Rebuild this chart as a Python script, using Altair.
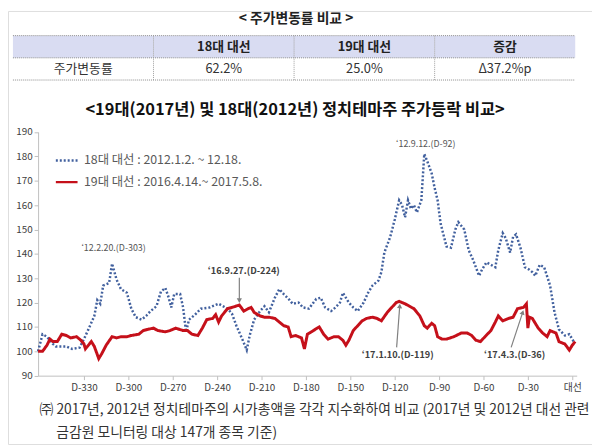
import altair as alt
import pandas as pd

FONT = "Noto Sans CJK KR"

# ---------------- texts ----------------
table_title = "< 주가변동률 비교 >"
table_header = ["", "18대 대선", "19대 대선", "증감"]
table_row = ["주가변동률", "62.2%", "25.0%", "Δ37.2%p"]
chart_title = "<19대(2017년) 및 18대(2012년) 정치테마주 주가등락 비교>"
series_names = ["18대 대선 : 2012.1.2. ~ 12.18.", "19대 대선 : 2016.4.14.~ 2017.5.8."]
footnote = [
    "㈜ 2017년, 2012년 정치테마주의 시가총액을 각각 지수화하여 비교 (2017년 및 2012년 대선 관련",
    "금감원 모니터링 대상 147개 종목 기준)",
]

# ---------------- series (D-day, index) ----------------
days18 = [-361, -358, -355, -351, -349, -342, -338, -333, -330, -327,
          -323, -321, -319, -317, -313, -311, -308, -305, -301, -298,
          -295, -291, -288, -285, -281, -278, -275, -273, -271, -269,
          -265, -263, -261, -259, -255, -251, -245, -239, -233, -230,
          -227, -223, -220, -218, -215, -211, -208, -205, -201, -198,
          -195, -191, -189, -185, -182, -178, -173, -170, -167, -163,
          -160, -157, -155, -151, -148, -145, -141, -138, -135, -131,
          -129, -127, -123, -120, -117, -115, -113, -111, -109, -107,
          -105, -102, -100, -98, -95, -93, -91, -89, -85, -82,
          -79, -77, -73, -70, -67, -63, -61, -58, -55, -52,
          -50, -47, -45, -42, -40, -38, -35, -32, -29, -27,
          -25, -22, -19, -15, -12, -9, -5, -2, 1]
vals18 = [100, 107, 106, 103, 102, 102, 101, 101.5, 105, 109,
          114.5, 121, 119.5, 127, 128, 136, 129.5, 125.5, 124, 117.5,
          114, 113, 114.5, 116.5, 118.5, 124.5, 126, 122.5, 118, 123.5,
          123.5, 118, 108, 113, 115, 117.5, 118, 119.5, 117.5, 115.5,
          110.5, 105, 100.5, 106.5, 113, 116.5, 118.5, 116, 122, 125.5,
          123.5, 121, 119.5, 120, 118, 117.5, 121.5, 122, 118, 116.5,
          118, 120, 124, 120, 118, 116.5, 120, 124, 127, 129,
          132.5, 140.5, 147, 154, 162, 160, 155, 162, 158.5, 160,
          157, 162, 181, 178, 173, 167, 162, 152.5, 143, 142.5,
          150, 153, 150, 141.5, 137.5, 131, 133.5, 136.5, 135.5, 134.5,
          141.5, 148.5, 146.5, 140.5, 147, 148, 142.5, 134.5, 133.5, 132.5,
          131, 135.5, 134.5, 127, 116, 109, 106.5, 107, 104]

days19 = [-361, -358, -355, -353, -351, -348, -345, -342, -339, -335,
          -332, -330, -329, -325, -323, -320, -318, -315, -311, -308,
          -305, -301, -298, -293, -290, -287, -283, -280, -275, -272,
          -268, -263, -260, -257, -253, -250, -247, -243, -241, -239,
          -237, -233, -230, -225, -222, -219, -217, -215, -211, -208,
          -205, -201, -198, -195, -192, -190, -187, -183, -181, -179,
          -175, -171, -168, -165, -161, -158, -155, -153, -151, -148,
          -145, -142, -139, -135, -132, -129, -125, -122, -119, -117,
          -113, -110, -107, -103, -100, -98, -95, -93, -91, -88,
          -85, -80, -75, -71, -68, -65, -62, -59, -55, -52,
          -50, -47, -43, -40, -37, -33, -31, -30, -29, -27,
          -23, -20, -17, -15, -11, -9, -5, -2, 0, 2]
vals19 = [100, 100, 102.5, 105, 104, 104, 107, 106.5, 105.5, 106,
          104.5, 103, 101, 104, 102, 97, 99, 102.5, 106, 105.5,
          106, 106, 106.5, 107, 108.5, 109, 109.5, 108.5, 108, 108.5,
          109.5, 108.5, 108.5, 107, 106.5, 109.5, 113, 113.5, 115, 112,
          114.5, 117.5, 118, 119, 116.5, 117.5, 118, 116, 114.5, 114,
          114, 113.5, 112, 110.5, 110, 106, 106.5, 105.5, 101, 107,
          108.5, 110, 107, 105, 106, 106, 104.5, 102.5, 104.5, 108.5,
          110.5, 112.5, 113.5, 114, 113.5, 112.5, 116, 118, 120, 120.5,
          119.5, 118.5, 117.5, 114.5, 110.5, 109.5, 111.5, 110.5, 106, 105,
          105, 106, 107.5, 107.5, 106.5, 104.5, 104, 106, 108.5, 112,
          114.5, 112.5, 113.5, 114, 117.5, 118, 119.5, 109.5, 114, 113.5,
          109.5, 107.5, 106, 108.5, 107.5, 104, 103, 100.5, 102.5, 104]

x_tick_values = [-330, -300, -270, -240, -210, -180, -150, -120, -90, -60, -30, 0]
x_tick_labels = ["D-330", "D-300", "D-270", "D-240", "D-210", "D-180", "D-150",
                 "D-120", "D-90", "D-60", "D-30", "대선"]
y_tick_values = [90, 100, 110, 120, 130, 140, 150, 160, 170, 180, 190]

# ---------------- annotations (data coordinates) ----------------
ann_text = ["‘12.2.20.(D-303)", "‘12.9.12.(D-92)", "‘16.9.27.(D-224)", "‘17.1.10.(D-119)", "‘17.4.3.(D-36)"]
ann_day = [-310, -99, -222, -118, -39]
ann_val = [142.5, 185, 132.8, 98.4, 98.4]
ann_bold = [False, False, True, True, True]

arrow_day = [-225, -118.7, -41.3]
arrow_val = [130.2, 101.6, 101.6]
arrow_day2 = [-225, -116.6, -33.5]
arrow_val2 = [120.8, 118.6, 116.0]
arrow_angle = [180, 4, 18]

# ---------------- build data ----------------
df18 = pd.DataFrame({"day": days18, "value": vals18, "series": series_names[0]})
df19 = pd.DataFrame({"day": days19, "value": vals19, "series": series_names[1]})
ann_df = pd.DataFrame({"d": ann_day, "v": ann_val, "t": ann_text, "b": ann_bold})
arrow_df = pd.DataFrame({"d": arrow_day, "v": arrow_val, "d2": arrow_day2, "v2": arrow_val2, "a": arrow_angle})

ncol = len(table_header)
cells = pd.DataFrame({
    "c": list(range(ncol)) * 2,
    "r": [0] * ncol + [1] * ncol,
    "text": table_header + table_row,
})
hlines = pd.DataFrame({"y": [0, 1, 2], "x0": 0, "x1": ncol})
vlines = pd.DataFrame({"x": list(range(1, ncol)), "y0": 0, "y1": 2})

# ---------------- table ----------------
tx = alt.Scale(domain=[0, ncol], range=[5, 575], nice=False, zero=False)
ty = alt.Scale(domain=[0, 2], range=[25, 70], nice=False, zero=False)

header_rect = alt.Chart(cells).transform_filter("datum.r == 0").transform_calculate(
    c1="datum.c + 1", r1="datum.r + 1"
).mark_rect(fill="#d9dcf2", stroke=None).encode(
    x=alt.X("c:Q", scale=tx, axis=None), x2="c1:Q",
    y=alt.Y("r:Q", scale=ty, axis=None), y2="r1:Q",
)
h_rules = alt.Chart(hlines).mark_rule(color="#8a8a8a", strokeDash=[1, 1], strokeWidth=1).encode(
    x=alt.X("x0:Q", scale=tx, axis=None), x2="x1:Q",
    y=alt.Y("y:Q", scale=ty, axis=None),
)
v_rules = alt.Chart(vlines).mark_rule(color="#a0a0a0", strokeDash=[1, 1], strokeWidth=1).encode(
    x=alt.X("x:Q", scale=tx, axis=None),
    y=alt.Y("y0:Q", scale=ty, axis=None), y2="y1:Q",
)
cell_base = alt.Chart(cells).transform_calculate(cx="datum.c + 0.5", cy="datum.r + 0.5")
head_text = cell_base.transform_filter("datum.r == 0").mark_text(
    font=FONT, fontSize=13, fontWeight="bold", color="#222222"
).encode(
    x=alt.X("cx:Q", scale=tx, axis=None), y=alt.Y("cy:Q", scale=ty, axis=None), text="text:N"
)
body_text = cell_base.transform_filter("datum.r == 1").mark_text(
    font=FONT, fontSize=13, color="#333333"
).encode(
    x=alt.X("cx:Q", scale=tx, axis=None), y=alt.Y("cy:Q", scale=ty, axis=None), text="text:N"
)
table_group = alt.layer(header_rect, h_rules, v_rules, head_text, body_text)

# ---------------- line chart ----------------
xs = alt.Scale(domain=[-361, 3], range=[30.5, 576.5], nice=False, zero=False)
ys = alt.Scale(domain=[90, 190], range=[369.7, 122.7], nice=False, zero=False)

label_expr = "''"
for v, l in zip(reversed(x_tick_values), reversed(x_tick_labels)):
    label_expr = f"datum.value == {v} ? '{l}' : ({label_expr})"

x_axis = alt.Axis(values=x_tick_values, labelExpr=label_expr, orient="bottom", offset=-69.3,
                  title=None, grid=False, domainColor="#bfbfbf", tickColor="#bfbfbf",
                  tickSize=4, labelFontSize=10, labelColor="#404040", labelPadding=3,
                  labelFont=FONT, labelFlush=False, labelOverlap=False)
y_axis = alt.Axis(values=y_tick_values, orient="left", offset=-30.5, title=None, grid=False,
                  domainColor="#bfbfbf", tickColor="#bfbfbf", tickSize=4, labelFontSize=10,
                  labelColor="#404040", labelPadding=2, labelFont=FONT)

legend = alt.Legend(orient="none", legendX=47, legendY=139, title=None, symbolType="stroke",
                    symbolSize=484, symbolStrokeWidth=2.5, labelFontSize=12.5,
                    labelColor="#595959", labelFont=FONT, labelOffset=5, rowPadding=3,
                    padding=0, labelLimit=400)
color = alt.Color("series:N", scale=alt.Scale(domain=series_names, range=["#41609e", "#c5101a"]),
                  legend=legend)
dash = alt.StrokeDash("series:N", scale=alt.Scale(domain=series_names, range=[[2, 2], [1, 0]]),
                      legend=legend)

blue = alt.Chart(df18).mark_line(strokeWidth=2.5).encode(
    x=alt.X("day:Q", scale=xs, axis=x_axis), y=alt.Y("value:Q", scale=ys, axis=y_axis),
    color=color, strokeDash=dash,
)
red = alt.Chart(df19).mark_line(strokeWidth=3).encode(
    x=alt.X("day:Q", scale=xs, axis=x_axis), y=alt.Y("value:Q", scale=ys, axis=y_axis),
    color=color, strokeDash=dash,
)
ann_normal = alt.Chart(ann_df).transform_filter("!datum.b").mark_text(
    font=FONT, fontSize=9, color="#555555"
).encode(x=alt.X("d:Q", scale=xs, axis=x_axis), y=alt.Y("v:Q", scale=ys, axis=y_axis), text="t:N")
ann_strong = alt.Chart(ann_df).transform_filter("datum.b").mark_text(
    font=FONT, fontSize=9.3, fontWeight="bold", color="#404040"
).encode(x=alt.X("d:Q", scale=xs, axis=x_axis), y=alt.Y("v:Q", scale=ys, axis=y_axis), text="t:N")
arrows = alt.Chart(arrow_df).mark_rule(color="#808080", strokeWidth=1.2).encode(
    x=alt.X("d:Q", scale=xs, axis=x_axis), y=alt.Y("v:Q", scale=ys, axis=y_axis),
    x2="d2:Q", y2="v2:Q",
)
heads = alt.Chart(arrow_df).mark_point(shape="triangle-up", filled=True, size=28,
                                       color="#808080", opacity=1).encode(
    x=alt.X("d2:Q", scale=xs, axis=x_axis), y=alt.Y("v2:Q", scale=ys, axis=y_axis),
    angle=alt.Angle("a:Q", scale=None),
)
line_group = alt.layer(blue, red, arrows, heads, ann_normal, ann_strong)

# ---------------- titles / footnote ----------------
t1 = alt.Chart(pd.DataFrame({"t": [table_title]})).mark_text(
    font=FONT, fontSize=14, fontWeight="bold", color="#222222"
).encode(x=alt.value(292), y=alt.value(8.5), text="t:N")
t2 = alt.Chart(pd.DataFrame({"t": [chart_title]})).mark_text(
    font=FONT, fontSize=16.6, fontWeight="bold", color="#111111"
).encode(x=alt.value(291), y=alt.value(100), text="t:N")
f1 = alt.Chart(pd.DataFrame({"t": [footnote[0]]})).mark_text(
    font=FONT, fontSize=14, color="#333333", align="left"
).encode(x=alt.value(32), y=alt.value(405), text="t:N")
f2 = alt.Chart(pd.DataFrame({"t": [footnote[1]]})).mark_text(
    font=FONT, fontSize=14, color="#333333", align="left"
).encode(x=alt.value(49), y=alt.value(428), text="t:N")

chart = alt.layer(table_group, line_group, t1, t2, f1, f2).resolve_scale(
    x="independent", y="independent"
).properties(
    width=592, height=439, padding=0, autosize=alt.AutoSizeParams(type="none")
).configure_view(stroke=None).configure(background="white")

chart.save("out.html", embed_options={"renderer": "svg", "actions": False})
